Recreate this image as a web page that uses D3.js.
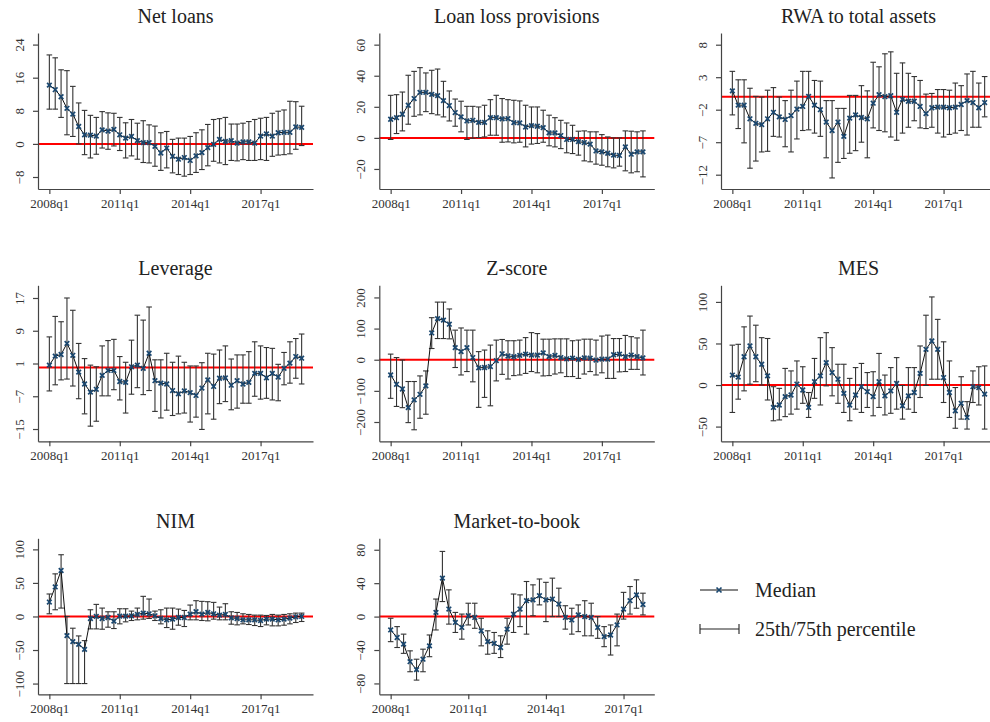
<!DOCTYPE html>
<html>
<head>
<meta charset="utf-8">
<script src="https://cdn.jsdelivr.net/npm/d3@7"></script>
<style>
  body { margin: 0; background: #fff; }
</style>
</head>
<body>
<svg id="chart" width="990" height="722"></svg>
<script>
// quarter index ticks (0 = 2008q1)
const xTickIdx = [0, 12, 24, 36];
const xTickLabels = ["2008q1", "2011q1", "2014q1", "2017q1"];

// Net loans
const netLoansMed = [14.2,13.1,11.4,8.6,7.2,4.2,2.2,2.1,1.9,3.4,3.1,3.5,2.2,1.4,1.8,0.8,0.3,0.3,-0.6,-2.2,-1.0,-3.0,-3.7,-3.3,-4.0,-2.9,-2.1,-0.9,-0.1,1.1,0.6,0.8,0.2,0.5,0.5,0.2,1.9,2.4,1.9,2.7,2.8,2.8,4.1,4.0];
const netLoansHi = [21.5,20.8,17.9,17.7,13.9,9.9,8.1,6.9,6.4,7.8,7.5,7.4,6.4,5.1,5.9,5.0,5.6,4.6,4.3,2.7,3.0,1.1,1.4,1.4,1.8,2.7,3.4,4.7,5.9,6.1,6.4,4.8,4.8,5.0,5.4,5.9,6.2,6.4,7.4,7.9,8.2,10.3,10.2,9.1];
const netLoansLo = [8.4,8.4,6.4,2.2,1.8,0,-2.6,-3.4,-2.5,-1.0,-1.3,-0.5,-1.6,-3.4,-2.9,-3.7,-4.5,-4.6,-5.4,-6.4,-5.8,-7.0,-7.4,-7.8,-7.4,-6.9,-6.2,-5.3,-4.2,-4.6,-5.0,-4.0,-4.1,-3.8,-4.0,-4.0,-3.8,-4.0,-3.0,-2.7,-2.6,-2.4,-1.3,-0.4];

// Loan loss provisions
const llpMed = [12,13,15.2,21,25.3,29.3,29.3,28,27.2,24,20.8,16.3,13.5,10.9,11.3,10,10,13,13,12.2,12.4,9.8,9.6,7,7.9,7.5,6.6,3.2,3.2,1.5,-1,-1,-2.4,-3,-4,-8.4,-9,-9.9,-11.1,-11.3,-5.8,-10.5,-9,-9];
const llpHi = [27.4,27.8,29.5,40.3,42.8,45.2,41.8,43.5,44.3,36.4,30.2,25,23.6,20.3,20.3,19.9,21,24.6,27.4,25.3,24.6,24.2,23.8,21,19.9,19.9,17.8,14.6,13,11.3,9.6,8.1,4.3,4.5,3.9,3.9,2.1,0.6,0,0,4.5,4.3,3.9,4.5];
const llpLo = [-1,2.8,4.5,8.8,13.9,14.8,16.9,15.6,14.8,13.5,10.9,7.5,3.9,-1,-0.2,0.2,0.6,1.7,1.7,-2.8,-2.6,-3.2,-2.8,-5.8,-4,-3.6,-2.8,-5.1,-5.8,-6.9,-9.6,-10.1,-11.1,-14.8,-15.4,-16.9,-17.6,-18.6,-19.3,-18.2,-21.2,-22.5,-21.8,-25.1];

// RWA to total assets
const rwaMed = [0.9,-1.3,-1.3,-3.4,-4.1,-4.3,-3.4,-2.4,-3.1,-3.5,-2.9,-1.9,-1.5,0.05,-1.3,-2,-3.9,-5.2,-3.9,-6.1,-3.3,-2.8,-3.2,-3.4,-1,0.3,0,0.15,-2.4,-0.4,-0.7,-0.7,-1.5,-2.6,-1.7,-1.6,-1.6,-1.7,-1.6,-1.2,-0.6,-0.9,-1.7,-0.9];
const rwaHi = [3.9,2.6,2.6,1.3,0.05,-0.05,1,1.4,-0.05,-0.6,1,2.4,3.9,3.9,2.5,2.4,-0.6,-0.6,-1.8,-1.8,0.2,0.2,1.7,0.9,5.3,4.6,6.6,6.9,3.6,5.2,3.6,3.1,2.5,0.4,0.5,1.1,1.1,1,2.1,1.7,3.5,3.9,2.1,3.1];
const rwaLo = [-2.8,-4.9,-7.1,-11,-9.9,-8.5,-8.4,-6.1,-6.2,-7.7,-8.5,-6.5,-5.2,-5.1,-5.6,-6.1,-9.4,-12.5,-10.1,-9.5,-8.7,-8.3,-7,-9.4,-4.8,-5.2,-5.4,-6.2,-6.7,-5.6,-4.7,-3.7,-4.8,-4.9,-4.7,-5.6,-6.2,-5.8,-5.6,-5.2,-5.9,-4.7,-4.7,-3.1];

// Leverage
const levMed = [0.6,2.8,3.2,5.9,3,-1.1,-4,-6,-5.3,-1.9,-0.7,-0.7,-3.4,-3.6,0.2,0.6,-0.2,3.5,-3.2,-3.8,-4,-5.6,-6.4,-5.7,-6.1,-6.8,-5,-3,-4.6,-2.6,-2.5,-4.3,-3.2,-4,-3.6,-1.4,-1.4,-2.5,-1.4,-2.3,-0.2,1.1,2.7,2.3];
const levHi = [7.5,12.5,11.2,17,14,5.9,2.2,0.6,0.2,5.3,6.6,6.9,2.7,1.3,6.7,12.8,11.6,14.8,1.9,1.9,3.5,1.3,2.8,1.3,0.4,0.4,1.2,3.5,3.3,4.3,5.3,2.1,3.1,3.1,3.9,6.3,5.3,4.9,4.7,0.8,3.7,6.3,7.1,8.2];
const levLo = [-5.7,-4.2,-3,-2.8,-4.5,-7.6,-11.3,-14.3,-13.1,-6.9,-6.9,-5.4,-7.9,-11.1,-6.5,-4.9,-6.6,-5.6,-10.7,-12.3,-10.4,-11.7,-11.3,-11.1,-13.3,-12.1,-15.1,-11.3,-12.6,-8.8,-8.3,-10.3,-9.9,-8.7,-8.7,-7,-7.7,-7.5,-7.9,-8.1,-4.2,-3.8,-2.6,-4];

// Z-score
const zMed = [-49,-79,-94,-154,-129,-111,-84,86,132,127,114,39,26,39,7,-26,-25,-22,-3,19,12,10,14,18,15,15,22,10,14,7,3,5,1,6,5,-1,2,2,16,18,10,15,10,6];
const zHi = [18,7,-1,-70,-70,-52,-36,135,185,185,163,95,102,95,95,26,31,47,63,65,61,61,63,71,87,84,66,66,67,67,67,61,63,66,66,63,76,79,68,68,78,74,70,95];
const zLo = [-124,-150,-154,-202,-225,-188,-175,36,68,68,67,-25,-49,-38,-71,-153,-121,-148,-68,-47,-62,-51,-49,-44,-38,-42,-52,-51,-46,-42,-54,-54,-60,-46,-38,-49,-42,-60,-60,-39,-38,-31,-31,-49];

// MES
const mesMed = [12,9.6,34,47,34,25,11,-27,-24,-14,-12,1.2,-6,-27,4,11,27,15,7,-10,-24,-12,-2,-8,-14,4,-13,-7,2,-25,-13,-9,14,43,53,43,9,-9,-31,-22,-39,-2,-3,-11];
const mesHi = [48,49,70,83,72,57,56,-2,-4,20,17,29,22,-9,32,57,63,45,25,25,8,21,26,15,16,38,12,21,33,-0.5,21,21,47,84,106,79,52,29,-3,10,-20,17,22,23];
const mesLo = [-33,-17,-7,1,4,0,-18,-43,-42,-38,-35,-29,-22,-39,-16,-24,-1,-13,-22,-33,-43,-29,-33,-27,-37,-27,-36,-34,-29,-41,-29,-33,-15,-0.5,7,7,-21,-39,-52,-41,-53,-21,-24,-53];

// NIM
const nimMed = [21.5,44,68.5,-28.5,-37.5,-41.5,-49,-3,0,-3,-1.5,-7,0.5,0.5,1,3,5,4,1,-3,-5,-4,-1.5,-1.5,3.5,7,3.5,6,4,2,3,-2,-3,-5,-5,-5,-6,-4,-4,-5,-4,-2.5,-0.5,0];
const nimHi = [33.5,63.5,92,0,-17.5,-29,-36,10,18,12.5,7,7,11.5,11.5,8,12.5,30,26,8,10,12.5,12.5,11,9,17,23.5,22.5,22,21,14,19,7,6,4,3,2,2,1.5,3,2,3,4,5,5];
const nimLo = [4,10,12.5,-100,-100,-100,-100,-18.5,-18.5,-19,-16,-18,-11,-8,-6,-5,-4,-3,-6,-11,-16.5,-19,-13,-15,-5,-5,-6,-6.5,-4,-5,-5,-11.5,-12.5,-11,-12,-13.5,-15,-12.5,-14,-14,-13,-11,-9,-7.5];

// Market-to-book (ends 2017q4)
const mtbMed = [-16,-25,-33,-54,-63.5,-51,-35,5,46,9,-7,-13,1,-1,-17,-30,-32,-37,-15,3,9,19,20,25,20,21,15,-1,-4,2,0,-1,-13,-24,-22,-10,9,19,26,14.5];
const mtbHi = [-2,-12,-21,-41,-51,-39,-22,21,78,32,5,3,16,16,-2,-17,-19,-23,-2,27,26,42,38,45,41,46,34,13,10,14,19,16,0,-12,-10,3,29,36,44,28];
const mtbLo = [-30,-37,-44,-66,-76,-66,-48,-16,18,-9,-19,-27,-10,-14,-35,-45,-44,-49,-33,-19,-12,-21,1,14,-6,0,0,-15,-21,-18,-23,-23,-26,-36,-46,-35,-3,3,10,2];

const panels = [
  {title: "Net loans", med: netLoansMed, hi: netLoansHi, lo: netLoansLo, dom: [-10.9, 26.8], ticks: [-8, 0, 8, 16, 24], col: 0, row: 0},
  {title: "Loan loss provisions", med: llpMed, hi: llpHi, lo: llpLo, dom: [-32.9, 67.5], ticks: [-20, 0, 20, 40, 60], col: 1, row: 0},
  {title: "RWA to total assets", med: rwaMed, hi: rwaHi, lo: rwaLo, dom: [-14.2, 9.8], ticks: [-12, -7, -2, 3, 8], col: 2, row: 0},
  {title: "Leverage", med: levMed, hi: levHi, lo: levLo, dom: [-18, 20.1], ticks: [-15, -7, 1, 9, 17], col: 0, row: 1},
  {title: "Z-score", med: zMed, hi: zHi, lo: zLo, dom: [-262, 239], ticks: [-200, -100, 0, 100, 200], col: 1, row: 1},
  {title: "MES", med: mesMed, hi: mesHi, lo: mesLo, dom: [-67.7, 120], ticks: [-50, 0, 50, 100], col: 2, row: 1},
  {title: "NIM", med: nimMed, hi: nimHi, lo: nimLo, dom: [-116, 116.5], ticks: [-100, -50, 0, 50, 100], col: 0, row: 2},
  {title: "Market-to-book", med: mtbMed, hi: mtbHi, lo: mtbLo, dom: [-93, 93.7], ticks: [-80, -40, 0, 40, 80], col: 1, row: 2}
];

// layout
const colLeft = [38, 379.3, 721];
const rowTop = [33, 285.3, 538.3];
const plotW = 275, plotH = 156;
const navy = "#1a476f", axisCol = "#444", textCol = "#333";
const serif = '"Liberation Serif", "Times New Roman", serif';

const svg = d3.select("#chart").style("font-family", serif);

function xMarker(sel, s) {
  sel.append("path")
    .attr("d", `M${-s},${-s}L${s},${s}M${-s},${s}L${s},${-s}`)
    .attr("stroke", navy)
    .attr("stroke-width", 1.7)
    .attr("fill", "none");
}

panels.forEach(p => {
  const left = colLeft[p.col], top = rowTop[p.row];
  const n = p.med.length, pad = 0.045 * (n - 1);
  const x = d3.scaleLinear().domain([-pad, n - 1 + pad]).range([left, left + plotW]);
  const y = d3.scaleLinear().domain(p.dom).range([top + plotH, top]);
  const g = svg.append("g");

  g.append("text")
    .attr("x", left + plotW / 2)
    .attr("y", top - 10)
    .attr("text-anchor", "middle")
    .style("font-family", serif)
    .style("font-size", "20px")
    .style("fill", "#222")
    .text(p.title);

  // zero line
  g.append("line")
    .attr("x1", left).attr("x2", left + plotW)
    .attr("y1", y(0)).attr("y2", y(0))
    .attr("stroke", "#ff0000").attr("stroke-width", 2);

  // percentile caps
  const idx = d3.range(n);
  const cap = 2.8;
  const bars = g.append("g").attr("stroke", "#333").attr("stroke-width", 1.1);
  idx.forEach(i => {
    const xi = x(i);
    bars.append("line").attr("x1", xi).attr("x2", xi).attr("y1", y(p.lo[i])).attr("y2", y(p.hi[i]));
    bars.append("line").attr("x1", xi - cap).attr("x2", xi + cap).attr("y1", y(p.lo[i])).attr("y2", y(p.lo[i]));
    bars.append("line").attr("x1", xi - cap).attr("x2", xi + cap).attr("y1", y(p.hi[i])).attr("y2", y(p.hi[i]));
  });

  // median line + markers
  g.append("path")
    .datum(idx)
    .attr("d", d3.line().x(i => x(i)).y(i => y(p.med[i])))
    .attr("fill", "none")
    .attr("stroke", "#111")
    .attr("stroke-width", 1);

  g.selectAll(".mk").data(idx).enter().append("g")
    .attr("transform", i => `translate(${x(i)},${y(p.med[i])})`)
    .call(xMarker, 2.3);

  // axes
  const ax = g.append("g")
    .attr("transform", `translate(0,${top + plotH})`)
    .call(d3.axisBottom(x).tickValues(xTickIdx).tickFormat((d, i) => xTickLabels[i]).tickSize(5).tickSizeOuter(0));
  ax.attr("font-family", null);
  ax.selectAll("text").attr("y", 19).attr("dy", 0)
    .style("font-size", "13px").style("font-family", serif).style("fill", textCol);

  const ay = g.append("g")
    .attr("transform", `translate(${left},0)`)
    .call(d3.axisLeft(y).tickValues(p.ticks).tickSize(5).tickSizeOuter(0));
  ay.attr("font-family", null);
  ay.selectAll("text")
    .attr("x", 0).attr("y", -14).attr("dy", 0)
    .attr("text-anchor", "middle")
    .attr("transform", "rotate(-90)")
    .style("font-size", "13px").style("font-family", serif).style("fill", textCol);

  g.selectAll(".domain, .tick line").attr("stroke", axisCol).attr("stroke-width", 1.2);
});

// legend
const leg = svg.append("g");
leg.append("line").attr("x1", 700).attr("x2", 738).attr("y1", 590).attr("y2", 590)
  .attr("stroke", "#111").attr("stroke-width", 1.2);
leg.append("g").attr("transform", "translate(719,590)").call(xMarker, 2.5);
leg.append("text").attr("x", 755).attr("y", 597)
  .style("font-family", serif).style("font-size", "20px").style("fill", "#222").text("Median");

leg.append("line").attr("x1", 700).attr("x2", 739).attr("y1", 629).attr("y2", 629)
  .attr("stroke", "#222").attr("stroke-width", 1.1);
[700, 739].forEach(xx => {
  leg.append("line").attr("x1", xx).attr("x2", xx).attr("y1", 624).attr("y2", 634)
    .attr("stroke", "#222").attr("stroke-width", 1.1);
});
leg.append("text").attr("x", 755).attr("y", 636)
  .style("font-family", serif).style("font-size", "20px").style("fill", "#222").text("25th/75th percentile");
</script>
</body>
</html>
